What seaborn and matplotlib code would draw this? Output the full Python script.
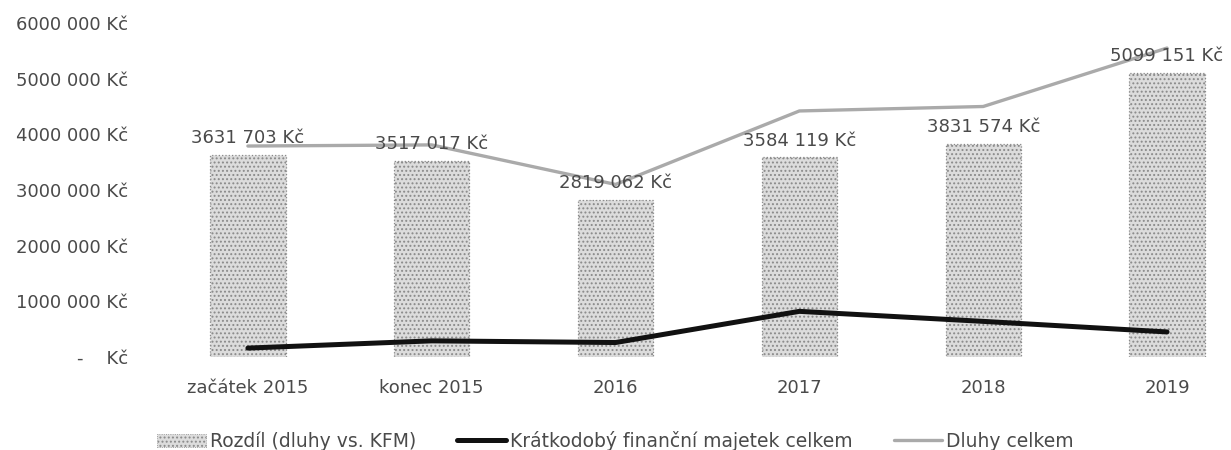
import matplotlib
matplotlib.use("Agg")
import matplotlib.pyplot as plt
import seaborn as sns
import pandas as pd
from matplotlib.patches import Patch
from matplotlib.lines import Line2D
from matplotlib.ticker import FuncFormatter

categories = ["začátek 2015", "konec 2015", "2016", "2017", "2018", "2019"]
rozdil = [3631703, 3517017, 2819062, 3584119, 3831574, 5099151]
kfm = [160000, 290000, 260000, 820000, 640000, 450000]
dluhy = [3790000, 3810000, 3100000, 4420000, 4500000, 5550000]
y_ticks = [0, 1000000, 2000000, 3000000, 4000000, 5000000, 6000000]
legend_labels = ["Rozdíl (dluhy vs. KFM)", "Krátkodobý finanční majetek celkem", "Dluhy celkem"]

df = pd.DataFrame({"kat": categories, "rozdil": rozdil, "kfm": kfm, "dluhy": dluhy})

sns.set_theme(style="white")
plt.rcParams["font.family"] = ["DejaVu Sans"]
plt.rcParams["hatch.linewidth"] = 0.9
plt.rcParams["hatch.color"] = "#8a8a8a"

txt = "#4a4a4a"
FS = 13
W, H = 1231, 450
fig = plt.figure(figsize=(W / 100, H / 100), dpi=100)
ax = fig.add_axes([156 / W, (H - 357) / H, 1 - 156 / W, (357 - 23) / H])

sns.barplot(data=df, x="kat", y="rozdil", ax=ax, color="#dcdcdc", width=0.41,
            edgecolor="#8a8a8a", linewidth=0.9, saturation=1)
for p in ax.patches:
    p.set_hatch("....")
    p.set_linestyle(":")

sns.lineplot(data=df, x="kat", y="dluhy", ax=ax, color="#aaaaaa", linewidth=2.4, sort=False)
sns.lineplot(data=df, x="kat", y="kfm", ax=ax, color="#111111", linewidth=3.6, sort=False)

def fmt(v):
    v = int(round(v))
    if v == 0:
        return "-    Kč"
    return f"{v // 1000} {v % 1000:03d} Kč"

for i, v in enumerate(rozdil):
    ax.text(i, v + 140000, fmt(v), ha="center", va="bottom", fontsize=FS, color=txt)

ax.set_ylim(0, 6000000)
ax.set_xlim(-0.5, 5.348)
ax.set_yticks(y_ticks)
ax.yaxis.set_major_formatter(FuncFormatter(lambda v, p: fmt(v)))
ax.tick_params(axis="y", labelsize=FS, labelcolor=txt, length=0, pad=20)
ax.tick_params(axis="x", labelsize=FS, labelcolor=txt, length=0, pad=16)
ax.set_xlabel("")
ax.set_ylabel("")
for s in ax.spines.values():
    s.set_visible(False)
if ax.get_legend():
    ax.get_legend().remove()

handles = [
    Patch(facecolor="#dcdcdc", edgecolor="#8a8a8a", hatch="....", linewidth=0.6, linestyle=":"),
    Line2D([0], [0], color="#111111", linewidth=3.6),
    Line2D([0], [0], color="#aaaaaa", linewidth=2.4),
]
fig.legend(handles, legend_labels, loc="center", bbox_to_anchor=(0.5, 9 / H), ncol=3,
           frameon=False, fontsize=13.5, labelcolor=txt, handlelength=2.6, handletextpad=0.2,
           columnspacing=2.2, borderpad=0)

fig.savefig("out.png", dpi=100, facecolor="white")
